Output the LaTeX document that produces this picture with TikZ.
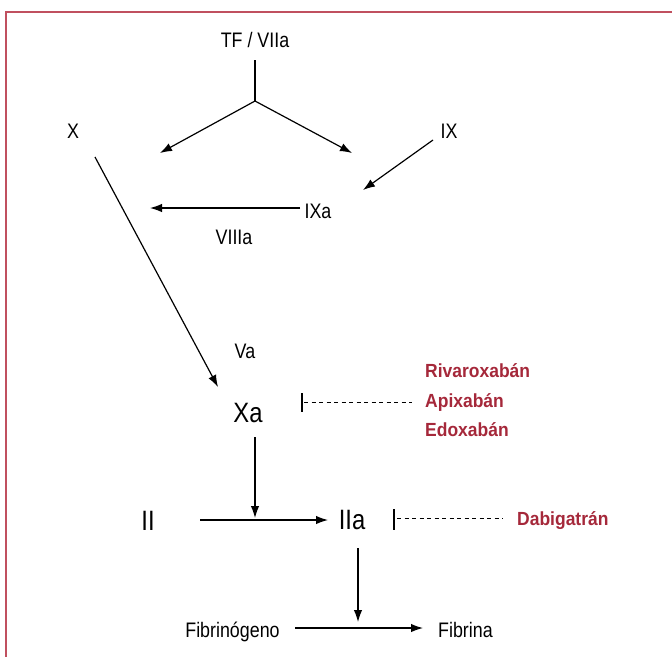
\documentclass[tikz,border=0pt]{standalone}
\usepackage{fontspec}
\usetikzlibrary{arrows.meta}
\newfontfamily\labfont{Liberation Sans}[FakeStretch=0.85]
\newfontfamily\redfont{Liberation Sans}[FakeStretch=0.92]
\definecolor{framered}{RGB}{192,80,95}
\definecolor{drugred}{RGB}{165,40,58}
\tikzset{
  lab/.style={inner sep=0pt, anchor=base, font=\labfont\fontsize{21}{21}\selectfont},
  big/.style={inner sep=0pt, anchor=base, font=\labfont\fontsize{28}{28}\selectfont},
  drug/.style={inner sep=0pt, anchor=base west, text=drugred, font=\redfont\bfseries\fontsize{19}{19}\selectfont},
  arr/.style={line width=1.2pt, -{Latex[length=12pt,width=8.5pt]}},
  ln/.style={line width=1.2pt},
  inhib/.style={line width=1.2pt},
  dashline/.style={line width=0.8pt, dash pattern=on 4pt off 3.5pt}
}
\begin{document}
\begin{tikzpicture}[x=1pt,y=-1pt]
\useasboundingbox (0,0) rectangle (672,657);
% frame
\draw[framered, line width=1.5pt] (672,12) -- (6,12) -- (6,657);
% labels
\node[lab] (tf) at (255,47.5) {TF / VIIa};
\node[lab] (x) at (73,138) {X};
\node[lab] (ix) at (449,138) {IX};
\node[lab] (ixa) at (318,218) {IXa};
\node[lab] (viiia) at (234,244) {VIIIa};
\node[lab] (va) at (245,358) {Va};
\node[big] (xa) at (248,422) {Xa};
\node[big] (ii) at (148,530) {II};
\node[big] (iia) at (352,529) {IIa};
\node[lab] (fibg) at (232.5,637) {Fibrinógeno};
\node[lab, anchor=base west] (fib) at (438,637) {Fibrina};
\node[drug] (riva) at (425,377) {Rivaroxabán};
\node[drug] (apix) at (425,407) {Apixabán};
\node[drug] (edox) at (425,436) {Edoxabán};
\node[drug] (dabi) at (517,525) {Dabigatrán};
% coordinates
\coordinate (tfb) at (255,60);
\coordinate (br) at (255,101);
\coordinate (tl) at (160,153);
\coordinate (tr) at (352,153);
\coordinate (xs) at (95,157);
\coordinate (xe) at (218,387);
\coordinate (ixs) at (433,140);
\coordinate (ixe) at (363,190);
\coordinate (ixas) at (300,208);
\coordinate (ixae) at (150,208);
\coordinate (xas) at (255,437);
\coordinate (xae) at (255,518);
\coordinate (iis) at (200,520);
\coordinate (iie) at (328,520);
\coordinate (iias) at (358,548);
\coordinate (iiae) at (358,622);
\coordinate (fs) at (295,628);
\coordinate (fe) at (423,628);
\coordinate (b1t) at (302,393);
\coordinate (b1b) at (302,412);
\coordinate (d1s) at (304,402);
\coordinate (d1e) at (412,402);
\coordinate (b2t) at (394,509);
\coordinate (b2b) at (394,530);
\coordinate (d2s) at (397,518);
\coordinate (d2e) at (503,518);
% connectors
\draw[ln] (tfb) -- (br);
\draw[arr] (br) -- (tl);
\draw[arr] (br) -- (tr);
\draw[arr] (xs) -- (xe);
\draw[arr] (ixs) -- (ixe);
\draw[arr] (ixas) -- (ixae);
\draw[arr] (xas) -- (xae);
\draw[arr] (iis) -- (iie);
\draw[arr] (iias) -- (iiae);
\draw[arr] (fs) -- (fe);
\draw[inhib] (b1t) -- (b1b);
\draw[dashline] (d1s) -- (d1e);
\draw[inhib] (b2t) -- (b2b);
\draw[dashline] (d2s) -- (d2e);
\end{tikzpicture}
\end{document}
